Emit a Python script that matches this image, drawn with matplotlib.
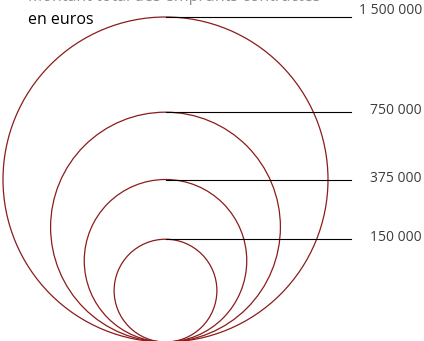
import matplotlib
matplotlib.use("Agg")
import matplotlib.pyplot as plt
from matplotlib.patches import Circle
import numpy as np

values = [1500000, 750000, 375000, 150000]
labels = ["1 500 000", "750 000", "375 000", "150 000"]
label_dy = [-6, -1.5, -1.5, -1.5]
title_lines = ["Montant total des emprunts contractés", "en euros"]

plt.rcParams['font.family'] = ['Open Sans', 'DejaVu Sans']

fig = plt.figure(figsize=(4.24, 3.41), dpi=100)
ax = fig.add_axes([0, 0, 1, 1])
ax.set_xlim(0, 424)
ax.set_ylim(341, 0)
ax.axis("off")

cx, base = 165.5, 342.0
rmax = 162.5
for v, lab, dy in zip(values, labels, label_dy):
    r = rmax * np.sqrt(v / max(values))
    ax.add_patch(Circle((cx, base - r), r, fill=False, ec="#8b1c1c", lw=0.9))
    top = base - 2 * r
    ax.plot([cx, 350.5], [top, top], color="black", lw=0.8)
    ax.text(422, top + dy, lab, ha="right", va="center", fontsize=10, color="#3c3c3c")

# first line is clipped by the top edge, as in the original
ax.text(28, 0.6, title_lines[0], ha="left", va="baseline", fontsize=11.5, color="#909090")
ax.text(28, 24.5, title_lines[1], ha="left", va="baseline", fontsize=11.5, color="black")

fig.savefig("out.png", dpi=100)
